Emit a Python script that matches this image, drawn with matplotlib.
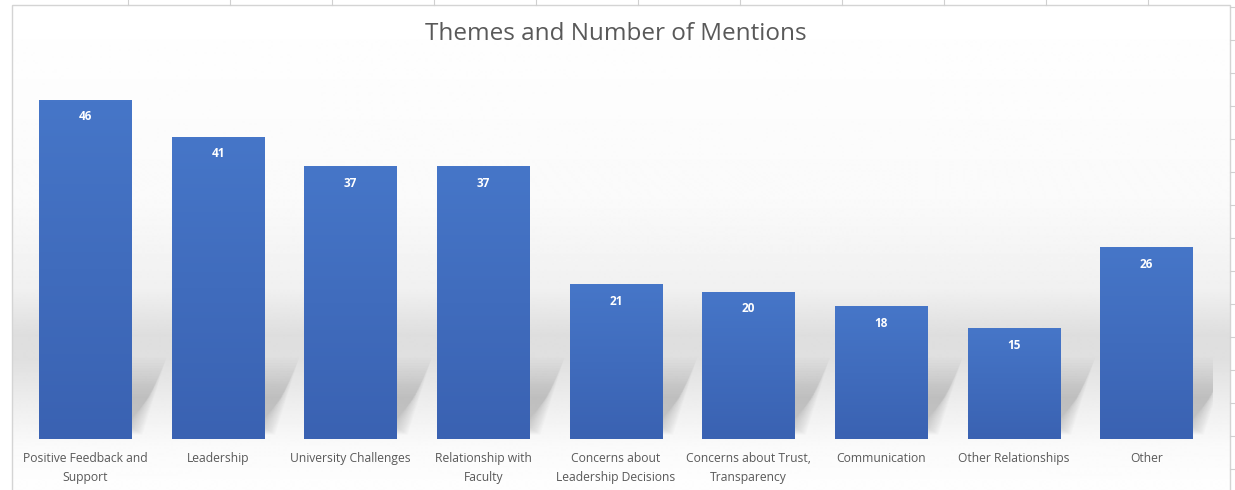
import numpy as np
import matplotlib.pyplot as plt
from matplotlib.patches import Polygon, Rectangle
from matplotlib.colors import LinearSegmentedColormap

# dati
temi = ["Positive Feedback and\nSupport", "Leadership", "University Challenges",
        "Relationship with\nFaculty", "Concerns about\nLeadership Decisions",
        "Concerns about Trust,\nTransparency", "Communication",
        "Other Relationships", "Other"]
menzioni = [46, 41, 37, 37, 21, 20, 18, 15, 26]

W, H = 1235, 490
fig = plt.figure(figsize=(W / 100, H / 100), dpi=100)

# sfondo: foglio di calcolo + area grafico con sfumatura
bg = fig.add_axes([0, 0, 1, 1], zorder=0)
bg.set_xlim(0, W)
bg.set_ylim(H, 0)
bg.axis('off')
for gx in range(128, 1230, 102):
    bg.plot([gx, gx], [0, 5], color='#d0d0d0', lw=0.8)
for gy in range(7, H, 33):
    bg.plot([1230, W], [gy, gy], color='#d0d0d0', lw=0.8)

prof_y = np.array([0, 200, 290, 335, 360, 410, 445, 490])
prof_v = np.array([255, 250, 240, 222, 224, 240, 250, 254]) / 255
yy = np.arange(5, H)
vals = np.interp(yy, prof_y, prof_v)
img = np.repeat(vals[:, None], 2, axis=1)
bg.imshow(img, cmap='gray', vmin=0, vmax=1, extent=(12, 1230, H, 5),
          aspect='auto', interpolation='bilinear')
bg.add_patch(Rectangle((12, 5), 1218, H, fill=False, edgecolor='#d4d4d4', lw=1))

# grafico
ax = fig.add_axes([19 / W, 51 / H, 1194 / W, 368.5 / H], zorder=1)
ax.patch.set_alpha(0)
x = np.arange(len(temi))
larg = 0.70

# ombre sfumate dietro le barre
for xi in x:
    xl, xr = xi - larg / 2, xi + larg / 2
    for k in range(16):
        d = k * 0.008
        poly = Polygon([(xl + d, 0.6 + k * 0.1), (xr + 0.08 - d, 0.6 + k * 0.1),
                        (xr + 0.26 - d, 11 - k * 0.35), (xl + 0.26 + d, 11 - k * 0.35)],
                       closed=True, facecolor='#888888', edgecolor='none',
                       alpha=0.03, zorder=1)
        ax.add_patch(poly)

barre = ax.bar(x, menzioni, width=larg, color='#4472c4', zorder=2)
cmap = LinearSegmentedColormap.from_list('blu', ['#3a62b2', '#4676c8'])
grad = np.linspace(0, 1, 100)[:, None]
for b in barre:
    im = ax.imshow(grad, cmap=cmap, aspect='auto', zorder=3,
                   extent=(b.get_x(), b.get_x() + b.get_width(), b.get_height(), 0))
    im.set_clip_path(b)
ax.set_xlim(-0.5, len(temi) - 0.5)
ax.set_ylim(0, 50)

for xi, v in zip(x, menzioni):
    ax.annotate(str(v), (xi, v), xytext=(0, -17), textcoords='offset pixels',
                ha='center', va='center', color='white', fontsize=8.5,
                fontweight='bold', family='Open Sans', zorder=4)

ax.set_xticks(x)
ax.set_xticklabels(temi, fontsize=8.7, color='#595959', family='Open Sans',
                   linespacing=1.6)
ax.tick_params(axis='x', length=0, pad=9.5)
ax.set_yticks([])
for s in ax.spines.values():
    s.set_visible(False)

fig.text(616 / W, 1 - 34 / H, 'Themes and Number of Mentions', ha='center',
         va='center', fontsize=17.5, color='#595959', family='Open Sans')

fig.savefig('out.png', dpi=100)
